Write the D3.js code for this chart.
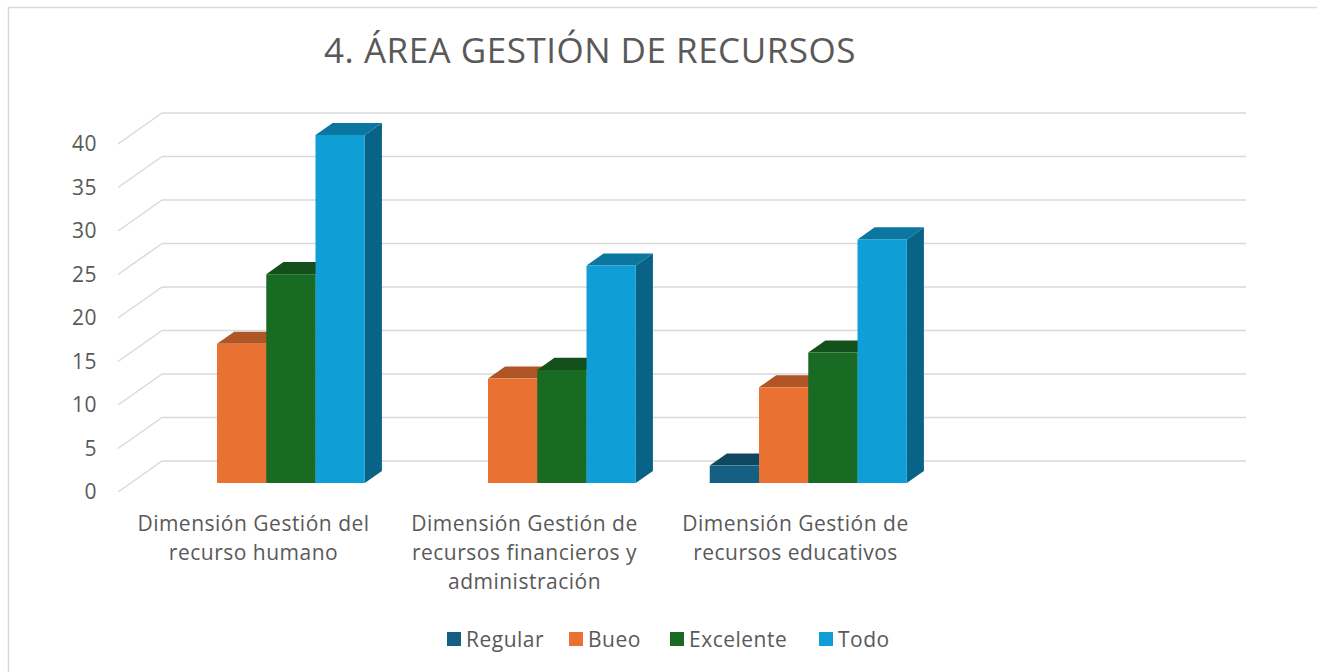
<!DOCTYPE html>
<meta charset="utf-8">
<head>
  <style>
    body { margin: 0; background: #fff; font-family: "Open Sans", Roboto, sans-serif; }
    text { fill: #595959; letter-spacing: 0.5px; }
  </style>
</head>
<body>
  <div class="chart"></div>
  <script src="https://d3js.org/d3.v7.min.js"></script>
  <script>
    // data
    var categories = [
      ["Dimensión Gestión del", "recurso humano"],
      ["Dimensión Gestión de", "recursos financieros y", "administración"],
      ["Dimensión Gestión de", "recursos educativos"],
      [""]
    ];
    var seriesNames = ["Regular", "Bueo", "Excelente", "Todo"];
    var seriesColors = ["#156082", "#E97132", "#196B24", "#0F9ED5"];
    var regular   = [0, 0, 2, null];
    var bueo      = [16, 12, 11, null];
    var excelente = [24, 13, 15, null];
    var todo      = [40, 25, 28, null];
    var yTicks = [0, 5, 10, 15, 20, 25, 30, 35, 40];

    var values = [regular, bueo, excelente, todo];

    var width = 1317, height = 672;
    var depthX = 44, depthY = -31;   // full depth of the back wall
    var barZ0 = 0.29, barZ1 = 0.68;  // bar front / back depth fraction

    var svg = d3.select(".chart").append("svg")
        .attr("width", width)
        .attr("height", height);

    // chart border
    svg.append("path")
        .attr("d", "M8.5,672 V7.5 H1317")
        .attr("fill", "none")
        .attr("stroke", "#d9d9d9")
        .attr("stroke-width", 1.5);

    // title
    svg.append("text")
        .attr("x", 590)
        .attr("y", 63)
        .attr("text-anchor", "middle")
        .style("font-size", "35px")
        .text("4. ÁREA GESTIÓN DE RECURSOS");

    var x = d3.scaleBand()
        .domain(d3.range(categories.length))
        .range([118, 1202])
        .paddingInner(0.273)
        .paddingOuter(0.1365);

    var xs = d3.scaleBand()
        .domain(d3.range(seriesNames.length))
        .range([0, x.bandwidth()]);

    var y = d3.scaleLinear().domain([0, 40]).range([492, 144]);

    function px(xf, z) { return xf + depthX * z; }
    function py(v, z) { return y(v) + depthY * z; }

    // gridlines: left wall diagonals + back wall
    var grid = svg.append("g").attr("stroke", "#d9d9d9").attr("stroke-width", 1.5).attr("fill", "none");
    grid.selectAll(".side").data(yTicks).enter().append("line")
        .attr("x1", px(118, 0)).attr("y1", function(d) { return py(d, 0); })
        .attr("x2", px(118, 1)).attr("y2", function(d) { return py(d, 1); });
    grid.selectAll(".back").data(yTicks).enter().append("line")
        .attr("x1", px(118, 1)).attr("y1", function(d) { return py(d, 1); })
        .attr("x2", px(1202, 1)).attr("y2", function(d) { return py(d, 1); });

    // y tick labels
    svg.append("g").selectAll("text").data(yTicks).enter().append("text")
        .attr("x", 97)
        .attr("y", function(d) { return y(d); })
        .attr("dy", "0.35em")
        .attr("text-anchor", "end")
        .style("font-size", "21px")
        .text(function(d) { return d; });

    // bars
    var bars = svg.append("g");
    categories.forEach(function(c, ci) {
      values.forEach(function(vals, si) {
        var v = vals[ci];
        if (v == null || v === 0) return;
        var x0 = x(ci) + xs(si), x1 = x0 + xs.bandwidth();
        var col = d3.color(seriesColors[si]);
        var fx0 = px(x0, barZ0), fx1 = px(x1, barZ0);
        var bx0 = px(x0, barZ1), bx1 = px(x1, barZ1);
        var ft = py(v, barZ0), fb = py(0, barZ0);
        var bt = py(v, barZ1), bb = py(0, barZ1);
        // side
        bars.append("path")
            .attr("d", "M" + fx1 + "," + ft + "L" + bx1 + "," + bt + "L" + bx1 + "," + bb + "L" + fx1 + "," + fb + "Z")
            .attr("fill", col.darker(1.3));
        // top
        bars.append("path")
            .attr("d", "M" + fx0 + "," + ft + "L" + bx0 + "," + bt + "L" + bx1 + "," + bt + "L" + fx1 + "," + ft + "Z")
            .attr("fill", col.darker(0.8));
        // front
        bars.append("rect")
            .attr("x", fx0).attr("y", ft)
            .attr("width", fx1 - fx0).attr("height", fb - ft)
            .attr("fill", col);
      });
    });

    // category labels
    var cat = svg.append("g").selectAll("text").data(categories).enter().append("text")
        .attr("text-anchor", "middle")
        .attr("x", function(d, i) { return x(i) + x.bandwidth() / 2; })
        .attr("y", 531)
        .style("font-size", "21px");
    cat.selectAll("tspan").data(function(d) { return d; }).enter().append("tspan")
        .attr("x", function() { return d3.select(this.parentNode).attr("x"); })
        .attr("dy", function(d, i) { return i ? 29 : 0; })
        .text(function(d) { return d; });

    // legend
    var legendX = [447, 569, 670, 819];
    var leg = svg.append("g").selectAll("g").data(seriesNames).enter().append("g")
        .attr("transform", function(d, i) { return "translate(" + legendX[i] + ",632)"; });
    leg.append("rect").attr("width", 14).attr("height", 14)
        .attr("fill", function(d, i) { return seriesColors[i]; });
    leg.append("text").attr("x", 19).attr("y", 14.5)
        .style("font-size", "21px")
        .text(function(d) { return d; });
  </script>
</body>
